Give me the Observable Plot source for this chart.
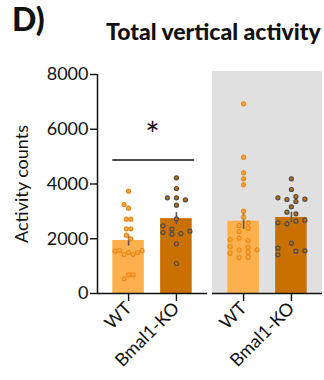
<!DOCTYPE html>
<html><head><meta charset="utf-8">
<script src="https://cdn.jsdelivr.net/npm/d3@7"></script>
<script src="https://cdn.jsdelivr.net/npm/@observablehq/plot@0.6"></script>
<style>
body{margin:0;background:#fff;font-family:Lato,"Open Sans",sans-serif;color:#111;}
#wrap{position:relative;width:324px;height:380px;overflow:hidden;}
#panel{position:absolute;left:12px;top:0px;font-size:32px;font-weight:900;line-height:1.2;}
#title{position:absolute;left:106px;top:18px;font-size:23px;font-weight:900;line-height:1.2;white-space:nowrap;}
#chart{position:absolute;left:0;top:50px;}
</style></head>
<body><div id="wrap"><div id="panel">D)</div><div id="title">Total vertical activity</div><div id="chart"></div></div>
<script>
// panels (second one shaded) and groups
const phases = ["Light", "Dark"];
const genotypes = ["WT", "Bmal1-KO"];
const yTicks = [0, 2000, 4000, 6000, 8000];

// individual animals; slot = beeswarm column
const wtLight = [3737, 3251, 3117, 2715, 2715, 2363, 2363, 2131, 1997, 1546, 1571, 1425, 1498, 1425, 1498, 1571, 683, 683, 536];
const wtLightSlot = [0, -1, 0, -0.5, 0.5, -0.5, 0.5, -0.5, 0.5, -3, -2, -1, 0, 1, 2, 3, 0, 1, -1];
const koLight = [4226, 3836, 3494, 3494, 3421, 3227, 2727, 2471, 2228, 2350, 2167, 2192, 2277, 1814, 1096];
const koLightSlot = [0, 0, -2, 0, 2, 0, 0, -3, -3, -1, -1, 1, 3, 0, 0];
const wtDark = [6928, 4980, 4408, 4189, 3970, 3007, 2788, 2582, 2387, 2484, 2265, 2021, 1973, 1717, 1473, 1936, 1692, 1509, 1326, 1596, 1315, 1596];
const wtDarkSlot = [0, 0, 0, 0, 0, 0, 0, 1, 1, -1, -1, -1, -3, -3, -3, 1, 1, 1, 1, -1, -1, 3];
const koDark = [4189, 3799, 3494, 3434, 3543, 3361, 3446, 3166, 2970, 2910, 2582, 2545, 2642, 2679, 1838, 1655, 1413, 1546, 1558];
const koDarkSlot = [0, 0, -3, -1, 1, 1, 3, 0, -1, 1, -3, -1, 1, 3, 0, -3, -3, 1, 3];

// significance annotation
const sig = [{phase: "Light", from: "WT", to: "Bmal1-KO", y: 4880, label: "*"}];

// ---- build tables
const groups = [
  ["Light", "WT", wtLight, wtLightSlot],
  ["Light", "Bmal1-KO", koLight, koLightSlot],
  ["Dark", "WT", wtDark, wtDarkSlot],
  ["Dark", "Bmal1-KO", koDark, koDarkSlot]
];
const points = groups.flatMap(([phase, geno, vals, slots]) =>
  vals.map((v, i) => ({phase, geno, value: v, slot: slots[i]})));
const summary = groups.map(([phase, geno, vals]) => ({
  phase, geno, mean: d3.mean(vals), sem: d3.deviation(vals) / Math.sqrt(vals.length)
}));

const xDomain = [-0.65, 1.65];
const yDomain = [0, 8000];
const pos = g => genotypes.indexOf(g);
const half = 0.33;
const slotUnit = 0.094;
const barColor = {"WT": "#FFB04E", "Bmal1-KO": "#C97000"};
const FONT = 18;

const chart = Plot.plot({
  width: 324, height: 330,
  marginLeft: 96, marginRight: 2, marginTop: 24, marginBottom: 87,
  x: {domain: xDomain},
  y: {domain: yDomain},
  fx: {domain: phases, paddingInner: 0.0443, paddingOuter: 0, axis: null, label: null},
  style: {fontFamily: "Lato, 'Open Sans', sans-serif", fontSize: FONT + "px", color: "#111", background: "transparent", overflow: "visible"},
  marks: [
    Plot.rect([{phase: "Dark"}], {fx: "phase", x1: () => xDomain[0], x2: () => xDomain[1], y1: () => yDomain[0], y2: () => yDomain[1], fill: "#e0e0e0", insetTop: -3}),
    Plot.rectY(summary, {fx: "phase", x1: d => pos(d.geno) - half, x2: d => pos(d.geno) + half, y1: () => 0, y2: "mean", fill: d => barColor[d.geno]}),
    Plot.ruleX(summary, {fx: "phase", x: d => pos(d.geno), y1: d => d.mean - d.sem, y2: d => d.mean + d.sem, stroke: "#555", strokeWidth: 1.6}),
    Plot.dot(points.filter(d => d.geno === "WT"), {fx: "phase", x: d => pos(d.geno) + d.slot * slotUnit, y: "value", r: 2, fill: "#FFA940", stroke: "#E8891A", strokeWidth: 1.2}),
    Plot.dot(points.filter(d => d.geno === "Bmal1-KO"), {fx: "phase", x: d => pos(d.geno) + d.slot * slotUnit, y: "value", r: 2, fill: "#C87000", stroke: "#4a4a4a", strokeWidth: 1.2}),
    Plot.ruleY([0], {stroke: "#111", strokeWidth: 1.5}),
    Plot.ruleX([{phase: "Light"}], {fx: "phase", x: () => xDomain[0], y1: () => yDomain[0], y2: () => yDomain[1], stroke: "#111", strokeWidth: 1.5}),
    Plot.ruleY(sig, {fx: "phase", y: "y", x1: d => pos(d.from) - half, x2: d => pos(d.to) + half + 0.05, stroke: "#111", strokeWidth: 1.5}),
    Plot.text(sig, {fx: "phase", y: "y", x: d => (pos(d.from) + pos(d.to)) / 2, text: "label", fontSize: 34, dy: -24, fill: "#111"}),
    Plot.axisY({ticks: yTicks, tickFormat: d => String(d), tickSize: 7, tickPadding: 2, strokeWidth: 1.4, fontSize: FONT,
      label: "Activity counts", labelAnchor: "center", labelOffset: 82, labelArrow: "none"}),
    Plot.axisX({ticks: [0, 1], tickFormat: i => genotypes[i], tickRotate: -45, tickSize: 8, tickPadding: 4, strokeWidth: 1.4, fontSize: FONT, label: null})
  ]
});
document.getElementById("chart").appendChild(chart);
</script>
</body></html>
